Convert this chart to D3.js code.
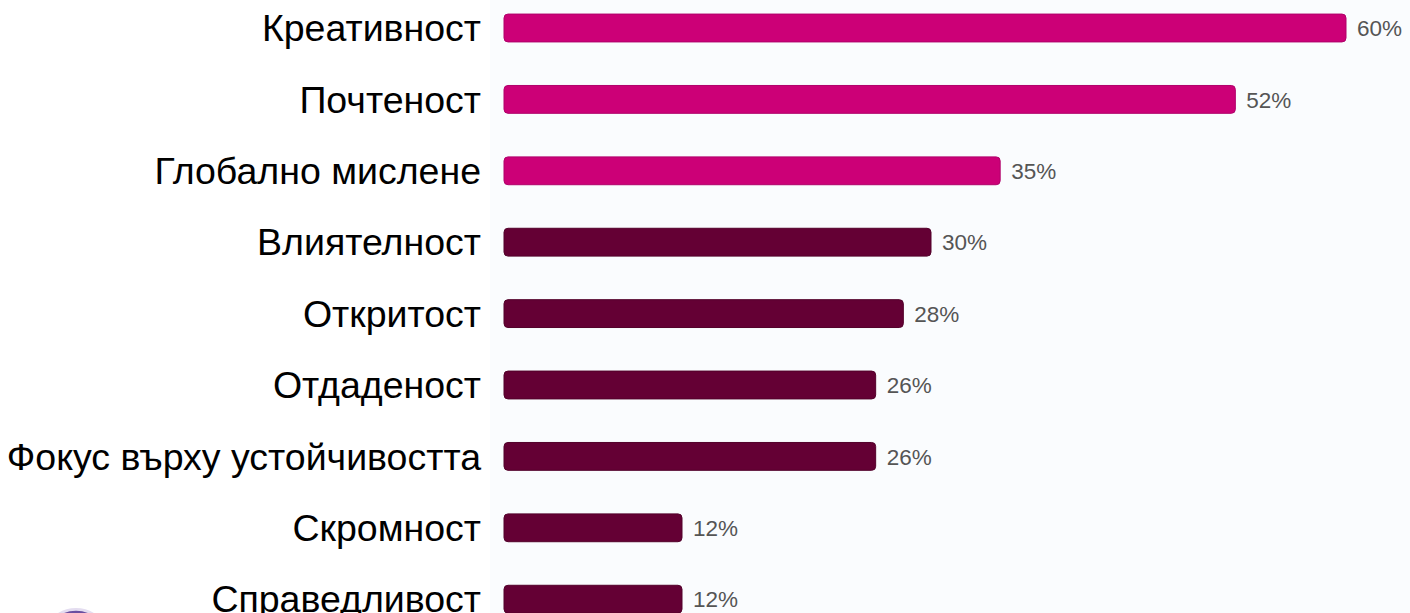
<!DOCTYPE html>
<html lang="bg">
<head>
    <meta charset="UTF-8">
    <title>Качества</title>
    <script src="https://d3js.org/d3.v7.min.js"></script>
    <style>
        html, body { margin: 0; padding: 0; background: #ffffff; overflow: hidden; }
        svg { display: block; }
        .label { font-family: "Liberation Sans", Arial, sans-serif; font-size: 37.5px; fill: #000; }
        .value { font-family: "Liberation Sans", Arial, sans-serif; font-size: 22.5px; fill: #555; }
    </style>
</head>
<body>
    <svg></svg>
    <script>
        // data
        const categories = ["Креативност", "Почтеност", "Глобално мислене", "Влиятелност",
            "Откритост", "Отдаденост", "Фокус върху устойчивостта", "Скромност", "Справедливост"];
        const values = [60, 52, 35, 30, 28, 26, 26, 12, 12];
        const groups = ["top", "top", "top", "rest", "rest", "rest", "rest", "rest", "rest"];

        const width = 1410, height = 613;

        const data = categories.map((c, i) => ({ name: c, value: values[i], group: groups[i] }));

        const x = d3.scaleLinear()
            .domain([0, 60])
            .range([516, 1346]);

        const y = d3.scaleBand()
            .domain(categories)
            .range([-7.7, 634.9])
            .paddingInner(0.61)
            .paddingOuter(0.305);

        const color = { top: "#cc0077", rest: "#640034" };
        const edge = { top: "#b0006a", rest: "#52002a" };

        const barLeft = x(0) - 12;

        const svg = d3.select("svg")
            .attr("width", width)
            .attr("height", height);

        // faint panel behind the bars
        svg.append("rect")
            .attr("x", barLeft - 14)
            .attr("y", 0)
            .attr("width", width - barLeft + 14)
            .attr("height", height)
            .attr("fill", "#fafcfe");

        svg.selectAll(".bar")
            .data(data)
            .enter()
            .append("rect")
            .attr("class", "bar")
            .attr("x", barLeft)
            .attr("y", d => y(d.name))
            .attr("width", d => x(d.value) - barLeft)
            .attr("height", y.bandwidth())
            .attr("rx", 4)
            .attr("fill", d => color[d.group])
            .attr("stroke", d => edge[d.group])
            .attr("stroke-width", 1);

        svg.selectAll(".label")
            .data(data)
            .enter()
            .append("text")
            .attr("class", "label")
            .attr("x", barLeft - 23)
            .attr("y", d => y(d.name) + y.bandwidth() / 2)
            .attr("dy", "0.35em")
            .attr("text-anchor", "end")
            .text(d => d.name);

        svg.selectAll(".value")
            .data(data)
            .enter()
            .append("text")
            .attr("class", "value")
            .attr("x", d => x(d.value) + 11)
            .attr("y", d => y(d.name) + y.bandwidth() / 2)
            .attr("dy", "0.36em")
            .text(d => d.value + "%");

        // corner of a logo peeking in at the bottom left
        svg.append("circle")
            .attr("cx", 76)
            .attr("cy", 642)
            .attr("r", 31)
            .attr("fill", "none")
            .attr("stroke", "#e4ddf0")
            .attr("stroke-width", 6);
        svg.append("circle")
            .attr("cx", 76)
            .attr("cy", 642)
            .attr("r", 30)
            .attr("fill", "none")
            .attr("stroke", "#6a4ea0")
            .attr("stroke-width", 2.5);
    </script>
</body>
</html>
